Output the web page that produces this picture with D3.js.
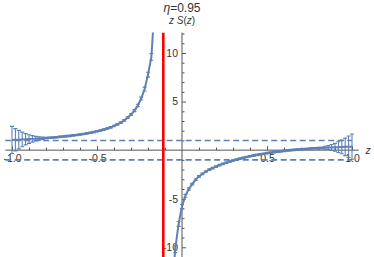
<!DOCTYPE html>
<html><head><meta charset="utf-8">
<script src="https://cdn.jsdelivr.net/npm/d3@7"></script>
<style>body{margin:0;background:#fff}svg{display:block}</style>
</head><body>
<svg id="c" width="374" height="257"></svg>
<script>
// ---- data ----
const leftZ = [-1.00,-0.98,-0.96,-0.94,-0.92,-0.90,-0.88,-0.86,-0.84,-0.82,-0.80,-0.78,-0.76,-0.74,-0.72,-0.70,-0.68,-0.66,-0.64,-0.62,-0.60,-0.58,-0.56,-0.54,-0.52,-0.50,-0.48,-0.46,-0.44,-0.42,-0.40,-0.38,-0.36,-0.34,-0.32,-0.30,-0.28,-0.26,-0.24,-0.22,-0.20,-0.18,-0.16];
const leftVal = [1.05,1.07,1.08,1.10,1.12,1.14,1.16,1.18,1.20,1.22,1.25,1.28,1.30,1.33,1.37,1.40,1.44,1.47,1.52,1.56,1.61,1.66,1.72,1.79,1.86,1.94,2.02,2.12,2.23,2.35,2.49,2.65,2.84,3.07,3.34,3.66,4.07,4.60,5.31,6.29,7.77,9.60,15.2];
const leftErr = [1.40,1.15,0.95,0.75,0.58,0.44,0.33,0.24,0.17,0.12,0.08,0.08,0.08,0.08,0.08,0.08,0.08,0.08,0.08,0.08,0.08,0.08,0.08,0.08,0.08,0.08,0.08,0.08,0.08,0.08,0.08,0.08,0.08,0.08,0.08,0.08,0.10,0.12,0.15,0.20,0.25,0.35,0.50];
const rightZ = [-0.06,-0.04,-0.02,0.00,0.02,0.04,0.06,0.08,0.10,0.12,0.14,0.16,0.18,0.20,0.22,0.24,0.26,0.28,0.30,0.32,0.34,0.36,0.38,0.40,0.42,0.44,0.46,0.48,0.50,0.52,0.54,0.56,0.58,0.60,0.62,0.64,0.66,0.68,0.70,0.72,0.74,0.76,0.78,0.80,0.82,0.84,0.86,0.88,0.90,0.92,0.94,0.96,0.98,1.00];
const rightVal = [-15.0,-10.2,-7.6,-5.8,-4.7,-4.0,-3.5,-3.05,-2.7,-2.45,-2.2,-2.0,-1.85,-1.7,-1.55,-1.42,-1.3,-1.18,-1.07,-0.97,-0.88,-0.79,-0.71,-0.63,-0.56,-0.49,-0.43,-0.37,-0.31,-0.26,-0.21,-0.16,-0.12,-0.08,-0.04,0.00,0.03,0.06,0.09,0.12,0.14,0.17,0.19,0.21,0.23,0.25,0.27,0.28,0.30,0.31,0.33,0.34,0.35,0.36];
const rightErr = [0.50,0.35,0.25,0.20,0.15,0.12,0.08,0.08,0.08,0.08,0.08,0.08,0.08,0.08,0.08,0.08,0.08,0.08,0.08,0.08,0.08,0.08,0.08,0.08,0.08,0.08,0.08,0.08,0.08,0.08,0.08,0.08,0.08,0.08,0.08,0.08,0.08,0.08,0.08,0.08,0.08,0.08,0.08,0.08,0.10,0.15,0.20,0.30,0.40,0.55,0.70,0.90,1.10,1.30];
const refLines = [1, -1];
const poleZ = -0.11;
const xMajor = [-1, -0.5, 0.5, 1];
const xMajorLabels = ["-1.0", "-0.5", "0.5", "1.0"];
const xMinor = [-0.9,-0.8,-0.7,-0.6,-0.4,-0.3,-0.2,-0.1,0.1,0.2,0.3,0.4,0.6,0.7,0.8,0.9];
const yMajor = [-10, -5, 5, 10];
const yMajorLabels = ["-10", "-5", "5", "10"];
const yMinor = [-11,-9,-8,-7,-6,-4,-3,-2,-1,1,2,3,4,6,7,8,9,11,12];
const titleEta = "η";
const titleRest = "=0.95";

// ---- drawing ----
const svg = d3.select("#c");
const W = 374, H = 257;
const x = d3.scaleLinear().domain([-1.04, 1.04]).range([5.2, 358.8]);
const y = d3.scaleLinear().domain([-11, 12.1]).range([257, 32.6]);
const blue = "rgb(94,129,181)";
const axisCol = "#555";
const font = "'Liberation Sans', Arial, sans-serif";

svg.append("defs").append("clipPath").attr("id", "clip")
  .append("rect").attr("x", 0).attr("y", y(12.1)).attr("width", W).attr("height", H - y(12.1));

// axes
const gx = svg.append("g").attr("transform", `translate(0,${y(0)})`);
gx.call(d3.axisBottom(x).tickValues(xMinor).tickSize(-2.5).tickFormat("").tickSizeOuter(0));
const gxM = svg.append("g").attr("transform", `translate(0,${y(0)})`);
gxM.call(d3.axisBottom(x).tickValues(xMajor).tickSize(-4).tickPadding(4).tickSizeOuter(0)
  .tickFormat((d, i) => xMajorLabels[i]));
const gy = svg.append("g").attr("transform", `translate(${x(0)},0)`);
gy.call(d3.axisLeft(y).tickValues(yMinor).tickSize(-2.5).tickFormat("").tickSizeOuter(0));
const gyM = svg.append("g").attr("transform", `translate(${x(0)},0)`);
gyM.call(d3.axisLeft(y).tickValues(yMajor).tickSize(-4).tickPadding(4).tickSizeOuter(0)
  .tickFormat((d, i) => yMajorLabels[i]));
[gx, gxM, gy, gyM].forEach(g => {
  g.selectAll("path.domain").attr("stroke", axisCol).attr("stroke-width", 1);
  g.selectAll("line").attr("stroke", axisCol).attr("stroke-width", 1);
  g.selectAll("text").attr("fill", "#333").attr("font-family", font).attr("font-size", 10.5);
});
gx.select("path.domain").attr("d", `M${x(-1.04)},0H${x(1.04)}`);
gxM.select("path.domain").remove();
gy.select("path.domain").attr("d", `M0,${y(-11)}V${y(12.1)}`);
gyM.select("path.domain").remove();

const plot = svg.append("g").attr("clip-path", "url(#clip)");

// dashed reference lines
plot.selectAll("line.ref").data(refLines).join("line")
  .attr("x1", x(-1.04)).attr("x2", x(1.0))
  .attr("y1", d => y(d)).attr("y2", d => y(d))
  .attr("stroke", blue).attr("stroke-width", 1.6).attr("stroke-dasharray", "6,3.5");

// pole line
plot.append("line").attr("x1", x(poleZ)).attr("x2", x(poleZ))
  .attr("y1", y(12.1)).attr("y2", H)
  .attr("stroke", "rgb(255,0,0)").attr("stroke-width", 2.6);

const branches = [
  leftZ.map((z, i) => ({z, v: leftVal[i], e: leftErr[i]})),
  rightZ.map((z, i) => ({z, v: rightVal[i], e: rightErr[i]}))
];
const line = d3.line().x(d => x(d.z)).y(d => y(d.v));
branches.forEach(br => {
  plot.append("path").datum(br).attr("d", line)
    .attr("fill", "none").attr("stroke", blue).attr("stroke-width", 2);
  const eb = plot.append("g").attr("stroke", blue).attr("stroke-width", 1.1);
  eb.selectAll("line.v").data(br).join("line")
    .attr("x1", d => x(d.z)).attr("x2", d => x(d.z))
    .attr("y1", d => y(d.v - d.e)).attr("y2", d => y(d.v + d.e));
  eb.selectAll("line.t").data(br).join("line")
    .attr("x1", d => x(d.z) - 2).attr("x2", d => x(d.z) + 2)
    .attr("y1", d => y(d.v + d.e)).attr("y2", d => y(d.v + d.e));
  eb.selectAll("line.b").data(br).join("line")
    .attr("x1", d => x(d.z) - 2).attr("x2", d => x(d.z) + 2)
    .attr("y1", d => y(d.v - d.e)).attr("y2", d => y(d.v - d.e));
});

// titles
const t = svg.append("text").attr("x", x(0)).attr("y", 12).attr("text-anchor", "middle")
  .attr("font-family", font).attr("font-size", 12).attr("fill", "#333");
t.append("tspan").attr("font-style", "italic").text(titleEta);
t.append("tspan").text(titleRest);
const yl = svg.append("text").attr("x", x(0)).attr("y", 24).attr("text-anchor", "middle")
  .attr("font-family", font).attr("font-size", 10).attr("fill", "#333");
yl.append("tspan").attr("font-style", "italic").text("z");
yl.append("tspan").text(" ");
yl.append("tspan").attr("font-style", "italic").text("S");
yl.append("tspan").text("(");
yl.append("tspan").attr("font-style", "italic").text("z");
yl.append("tspan").text(")");
svg.append("text").attr("x", 368).attr("y", y(0) + 3.5).attr("text-anchor", "middle")
  .attr("font-family", font).attr("font-size", 10.5).attr("font-style", "italic").attr("fill", "#333").text("z");
</script>
</body></html>
